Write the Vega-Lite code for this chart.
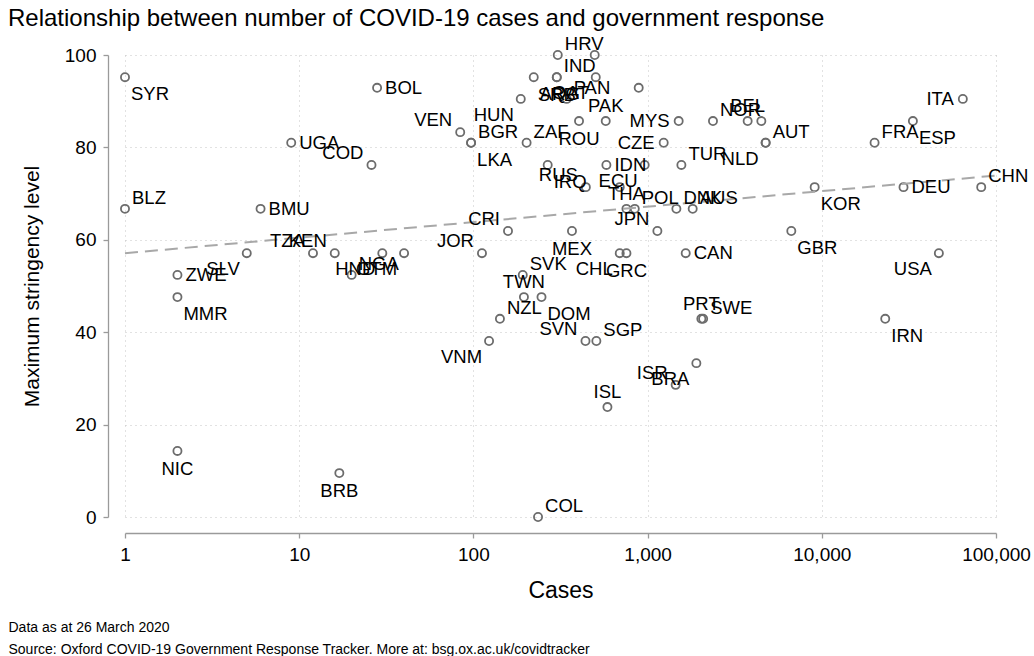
{
  "$schema": "https://vega.github.io/schema/vega-lite/v6.json",
  "width": 871,
  "height": 462,
  "autosize": {"type": "none"},
  "padding": {"left": 125, "top": 55, "right": 38, "bottom": 139},
  "background": "white",
  "title": {
    "text": "Relationship between number of COVID-19 cases and government response",
    "anchor": "start",
    "frame": "group",
    "dx": -117,
    "offset": 4,
    "fontSize": 24,
    "fontWeight": "normal",
    "font": "Liberation Sans",
    "color": "black"
  },
  "config": {
    "font": "Liberation Sans",
    "view": {"stroke": null},
    "axis": {
      "labelColor": "black",
      "titleColor": "black",
      "titleFontWeight": "normal",
      "domainColor": "#9a9a9a",
      "tickColor": "#9a9a9a",
      "domainWidth": 1.3,
      "tickWidth": 1.3,
      "tickSize": 5,
      "gridColor": "#c4c4c4",
      "gridDash": [1, 4],
      "gridWidth": 1
    }
  },
  "datasets": {
    "countries": [
      {"code": "SYR", "cases": 1, "stringency": 95.2},
      {"code": "BOL", "cases": 28, "stringency": 92.9},
      {"code": "UGA", "cases": 9, "stringency": 81},
      {"code": "COD", "cases": 26, "stringency": 76.2},
      {"code": "BLZ", "cases": 1, "stringency": 66.7},
      {"code": "BMU", "cases": 6, "stringency": 66.7},
      {"code": "SLV", "cases": 5, "stringency": 57.1},
      {"code": "ZWE", "cases": 2, "stringency": 52.4},
      {"code": "MMR", "cases": 2, "stringency": 47.6},
      {"code": "NIC", "cases": 2, "stringency": 14.3},
      {"code": "BRB", "cases": 17, "stringency": 9.5},
      {"code": "COL", "cases": 235, "stringency": 0},
      {"code": "TZA", "cases": 12, "stringency": 57.1},
      {"code": "KEN", "cases": 16, "stringency": 57.1},
      {"code": "NGA", "cases": 20, "stringency": 52.4},
      {"code": "HND", "cases": 30, "stringency": 57.1},
      {"code": "GTM", "cases": 40, "stringency": 57.1},
      {"code": "VEN", "cases": 84, "stringency": 83.3},
      {"code": "BGR", "cases": 97, "stringency": 81},
      {"code": "LKA", "cases": 97, "stringency": 81},
      {"code": "HUN", "cases": 187, "stringency": 90.5},
      {"code": "ZAF", "cases": 202, "stringency": 81},
      {"code": "ARG", "cases": 222, "stringency": 95.2},
      {"code": "IND", "cases": 301, "stringency": 95.2},
      {"code": "SRB", "cases": 301, "stringency": 95.2},
      {"code": "QAT", "cases": 504, "stringency": 95.2},
      {"code": "HRV", "cases": 305, "stringency": 100},
      {"code": "", "cases": 497, "stringency": 100},
      {"code": "PAN", "cases": 343, "stringency": 90.5},
      {"code": "", "cases": 889, "stringency": 92.9},
      {"code": "ROU", "cases": 404, "stringency": 85.7},
      {"code": "PAK", "cases": 575, "stringency": 85.7},
      {"code": "MYS", "cases": 1508, "stringency": 85.7},
      {"code": "CZE", "cases": 1237, "stringency": 81},
      {"code": "TUR", "cases": 1563, "stringency": 76.2},
      {"code": "AUT", "cases": 4760, "stringency": 81},
      {"code": "NLD", "cases": 4760, "stringency": 81},
      {"code": "NOR", "cases": 2373, "stringency": 85.7},
      {"code": "BEL", "cases": 3753, "stringency": 85.7},
      {"code": "", "cases": 4497, "stringency": 85.7},
      {"code": "DNK", "cases": 1463, "stringency": 66.7},
      {"code": "AUS", "cases": 1815, "stringency": 66.7},
      {"code": "KOR", "cases": 9100, "stringency": 71.4},
      {"code": "GBR", "cases": 6683, "stringency": 61.9},
      {"code": "CAN", "cases": 1655, "stringency": 57.1},
      {"code": "USA", "cases": 46990, "stringency": 57.1},
      {"code": "FRA", "cases": 20090, "stringency": 81},
      {"code": "ESP", "cases": 33340, "stringency": 85.7},
      {"code": "ITA", "cases": 64500, "stringency": 90.5},
      {"code": "DEU", "cases": 29450, "stringency": 71.4},
      {"code": "CHN", "cases": 82260, "stringency": 71.4},
      {"code": "IRN", "cases": 23130, "stringency": 42.9},
      {"code": "CRI", "cases": 158, "stringency": 61.9},
      {"code": "JOR", "cases": 112, "stringency": 57.1},
      {"code": "MEX", "cases": 368, "stringency": 61.9},
      {"code": "JPN", "cases": 1138, "stringency": 61.9},
      {"code": "THA", "cases": 756, "stringency": 66.7},
      {"code": "POL", "cases": 844, "stringency": 66.7},
      {"code": "CHL", "cases": 692, "stringency": 57.1},
      {"code": "GRC", "cases": 756, "stringency": 57.1},
      {"code": "SVK", "cases": 192, "stringency": 52.4},
      {"code": "TWN", "cases": 195, "stringency": 47.6},
      {"code": "NZL", "cases": 142, "stringency": 42.9},
      {"code": "DOM", "cases": 246, "stringency": 47.6},
      {"code": "SVN", "cases": 440, "stringency": 38.1},
      {"code": "SGP", "cases": 508, "stringency": 38.1},
      {"code": "VNM", "cases": 123, "stringency": 38.1},
      {"code": "ISL", "cases": 588, "stringency": 23.8},
      {"code": "ISR", "cases": 1449, "stringency": 28.6},
      {"code": "BRA", "cases": 1905, "stringency": 33.3},
      {"code": "PRT", "cases": 2035, "stringency": 42.9},
      {"code": "SWE", "cases": 2084, "stringency": 42.9},
      {"code": "RUS", "cases": 442, "stringency": 71.4},
      {"code": "IRQ", "cases": 267, "stringency": 76.2},
      {"code": "ECU", "cases": 962, "stringency": 76.2},
      {"code": "IDN", "cases": 580, "stringency": 76.2},
      {"code": "", "cases": 692, "stringency": 71.4}
    ],
    "trend": [
      {"cases": 1, "stringency": 57.1},
      {"cases": 100000, "stringency": 73.9}
    ]
  },
  "resolve": {"axis": {"x": "independent", "y": "shared"}},
  "layer": [
    {
      "data": {"name": "countries"},
      "mark": {"type": "point", "shape": "circle", "filled": false, "size": 66, "strokeWidth": 1.8, "color": "#6c6c6c", "opacity": 1, "clip": false},
      "encoding": {
        "x": {
          "field": "cases",
          "type": "quantitative",
          "scale": {"type": "log", "domain": [1, 100000], "nice": false},
          "axis": {
            "orient": "bottom",
            "values": [1, 10, 100, 1000, 10000, 100000],
            "format": ",",
            "offset": 16,
            "title": "Cases",
            "titleFontSize": 23,
            "titlePadding": 15,
            "labelFontSize": 19,
            "labelPadding": 7,
            "labelFlush": false,
            "labelOverlap": false,
            "grid": true
          }
        },
        "y": {
          "field": "stringency",
          "type": "quantitative",
          "scale": {"domain": [0, 100], "nice": false},
          "axis": {
            "orient": "left",
            "values": [0, 20, 40, 60, 80, 100],
            "offset": 17,
            "title": "Maximum stringency level",
            "titleFontSize": 21,
            "titlePadding": 22,
            "labelFontSize": 19,
            "labelPadding": 7,
            "labelAngle": 0,
            "grid": true
          }
        }
      }
    },
    {
      "data": {"name": "trend"},
      "mark": {"type": "line", "color": "#a8a8a8", "strokeDash": [13, 7], "strokeWidth": 2},
      "encoding": {
        "x": {
          "field": "cases",
          "type": "quantitative",
          "axis": {
            "orient": "bottom",
            "domain": false,
            "ticks": false,
            "labels": false,
            "grid": false,
            "title": ["Data as at 26 March 2020", "Source: Oxford COVID-19 Government Response Tracker. More at: bsg.ox.ac.uk/covidtracker"],
            "titleFontSize": 14,
            "titleLineHeight": 22,
            "titleAnchor": "start",
            "titleAlign": "left",
            "titleBaseline": "alphabetic",
            "titleAngle": 0,
            "titleX": -117,
            "titleY": 114
          }
        },
        "y": {"field": "stringency", "type": "quantitative"}
      }
    },
    {
      "data": {"name": "countries"},
      "transform": [{"filter": {"field": "code", "oneOf": ["BOL", "UGA", "BMU", "ZWE", "CAN", "DEU", "IDN"]}}],
      "mark": {"type": "text", "align": "left", "baseline": "middle", "dx": 8, "dy": 0, "fontSize": 18.5, "color": "black"},
      "encoding": {
        "x": {"field": "cases", "type": "quantitative", "axis": null},
        "y": {"field": "stringency", "type": "quantitative"},
        "text": {"field": "code"}
      }
    },
    {
      "data": {"name": "countries"},
      "transform": [{"filter": {"field": "code", "oneOf": ["ITA", "MYS", "CZE"]}}],
      "mark": {"type": "text", "align": "right", "baseline": "middle", "dx": -9, "dy": 0, "fontSize": 18.5, "color": "black"},
      "encoding": {
        "x": {"field": "cases", "type": "quantitative", "axis": null},
        "y": {"field": "stringency", "type": "quantitative"},
        "text": {"field": "code"}
      }
    },
    {
      "data": {"name": "countries"},
      "transform": [{"filter": {"field": "code", "oneOf": ["PAK", "BEL", "THA", "ISL", "PRT", "TWN"]}}],
      "mark": {"type": "text", "align": "center", "baseline": "middle", "dx": 0, "dy": -15, "fontSize": 18.5, "color": "black"},
      "encoding": {
        "x": {"field": "cases", "type": "quantitative", "axis": null},
        "y": {"field": "stringency", "type": "quantitative"},
        "text": {"field": "code"}
      }
    },
    {
      "data": {"name": "countries"},
      "transform": [{"filter": {"field": "code", "oneOf": ["ROU", "MEX", "NIC", "BRB", "GRC", "SRB"]}}],
      "mark": {"type": "text", "align": "center", "baseline": "middle", "dx": 0, "dy": 18, "fontSize": 18.5, "color": "black"},
      "encoding": {
        "x": {"field": "cases", "type": "quantitative", "axis": null},
        "y": {"field": "stringency", "type": "quantitative"},
        "text": {"field": "code"}
      }
    },
    {
      "data": {"name": "countries"},
      "transform": [{"filter": {"field": "code", "oneOf": ["BLZ", "COL", "BGR", "ZAF", "TUR", "AUT", "NOR", "DNK", "AUS", "FRA", "CHN", "SVK", "NZL", "SGP", "SWE", "POL", "HRV", "IND", "PAN", "NGA"]}}],
      "mark": {"type": "text", "align": "left", "baseline": "middle", "dx": 7, "dy": -11, "fontSize": 18.5, "color": "black"},
      "encoding": {
        "x": {"field": "cases", "type": "quantitative", "axis": null},
        "y": {"field": "stringency", "type": "quantitative"},
        "text": {"field": "code"}
      }
    },
    {
      "data": {"name": "countries"},
      "transform": [{"filter": {"field": "code", "oneOf": ["COD", "VEN", "CRI", "JOR", "JPN", "SVN", "ISR", "RUS", "TZA", "KEN"]}}],
      "mark": {"type": "text", "align": "right", "baseline": "middle", "dx": -8, "dy": -12, "fontSize": 18.5, "color": "black"},
      "encoding": {
        "x": {"field": "cases", "type": "quantitative", "axis": null},
        "y": {"field": "stringency", "type": "quantitative"},
        "text": {"field": "code"}
      }
    },
    {
      "data": {"name": "countries"},
      "transform": [{"filter": {"field": "code", "oneOf": ["SYR", "KOR", "GBR", "ESP", "IRN", "MMR", "IRQ", "ARG", "LKA", "DOM"]}}],
      "mark": {"type": "text", "align": "left", "baseline": "middle", "dx": 6, "dy": 17, "fontSize": 18.5, "color": "black"},
      "encoding": {
        "x": {"field": "cases", "type": "quantitative", "axis": null},
        "y": {"field": "stringency", "type": "quantitative"},
        "text": {"field": "code"}
      }
    },
    {
      "data": {"name": "countries"},
      "transform": [{"filter": {"field": "code", "oneOf": ["SLV", "USA", "VNM", "BRA", "NLD", "HUN", "CHL", "QAT", "HND", "GTM", "ECU"]}}],
      "mark": {"type": "text", "align": "right", "baseline": "middle", "dx": -7, "dy": 16, "fontSize": 18.5, "color": "black"},
      "encoding": {
        "x": {"field": "cases", "type": "quantitative", "axis": null},
        "y": {"field": "stringency", "type": "quantitative"},
        "text": {"field": "code"}
      }
    }
  ]
}
